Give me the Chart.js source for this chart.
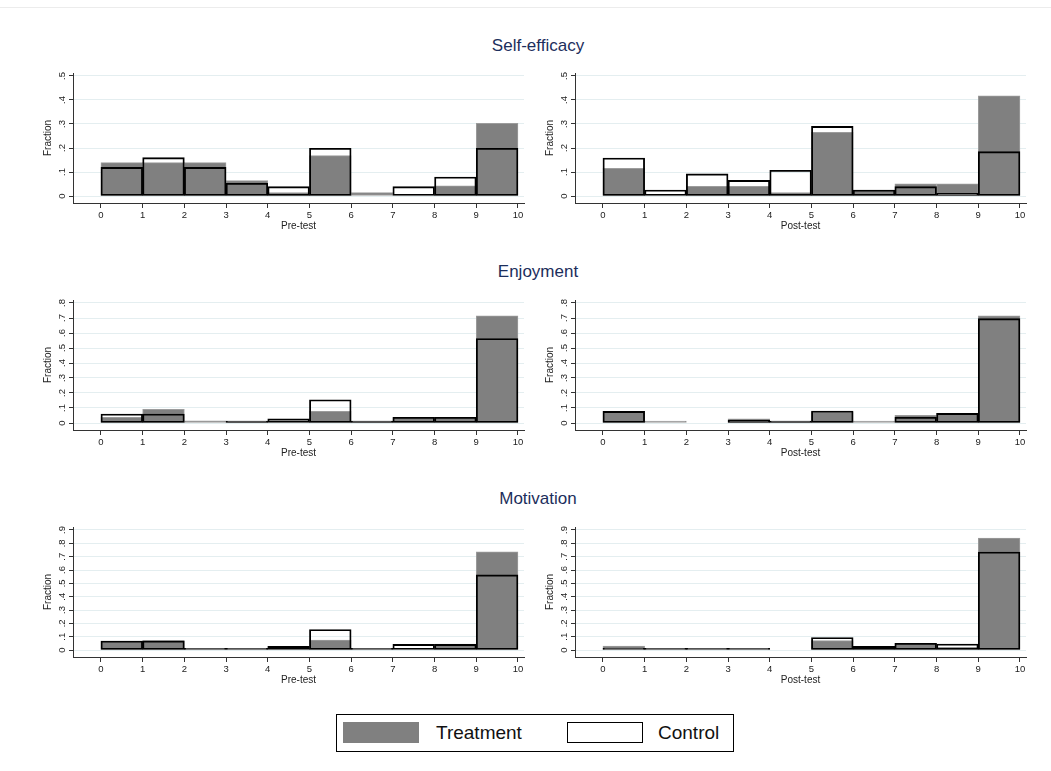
<!DOCTYPE html>
<html lang="en">
<head>
<meta charset="utf-8">
<title>Self-efficacy, Enjoyment, Motivation</title>
<style>
  * { margin: 0; padding: 0; }
  body {
    width: 1051px;
    height: 771px;
    background: #fff;
    position: relative;
    overflow: hidden;
    font-family: "Liberation Sans", Arial, sans-serif;
  }
  .topline { position: absolute; left: 0; top: 7px; width: 1051px; height: 1px; background: #ececec; }
  .rowTitle {
    position: absolute;
    left: 388px;
    width: 300px;
    text-align: center;
    font-size: 17px;
    color: #1c2e5c;
  }
  canvas { position: absolute; }
  .legend {
    position: absolute;
    left: 336px;
    top: 714px;
    width: 396px;
    height: 36px;
    border: 1px solid #000;
    font-size: 19px;
    color: #111;
  }
  .swatch { position: absolute; top: 7px; width: 76px; height: 21px; box-sizing: border-box; }
  .legend span { position: absolute; top: 7px; line-height: 22px; }
</style>
</head>
<body>
<div class="topline"></div>

<div class="rowTitle" style="top:36px">Self-efficacy</div>
<div class="rowTitle" style="top:262px">Enjoyment</div>
<div class="rowTitle" style="top:489px">Motivation</div>

<canvas id="sePre" width="490" height="171" style="left:40px; top:63px"></canvas>
<canvas id="sePost" width="490" height="171" style="left:542px; top:63px"></canvas>
<canvas id="enPre" width="490" height="171" style="left:40px; top:290px"></canvas>
<canvas id="enPost" width="490" height="171" style="left:542px; top:290px"></canvas>
<canvas id="moPre" width="490" height="171" style="left:40px; top:517px"></canvas>
<canvas id="moPost" width="490" height="171" style="left:542px; top:517px"></canvas>

<div class="legend">
  <div class="swatch" style="left:6px; background:#808080"></div>
  <span style="left:99px">Treatment</span>
  <div class="swatch" style="left:230px; border:1.5px solid #000; background:#fff"></div>
  <span style="left:321px">Control</span>
</div>

<script src="https://cdn.jsdelivr.net/npm/chart.js/dist/chart.umd.min.js"></script>
<script>
// bins are 0-1, 1-2, ... 9-10; bars sit at the bin centres
const binCentres = [0.5, 1.5, 2.5, 3.5, 4.5, 5.5, 6.5, 7.5, 8.5, 9.5];
const xTicks = [0, 1, 2, 3, 4, 5, 6, 7, 8, 9, 10];

const yTicksSelf = [0, 0.1, 0.2, 0.3, 0.4, 0.5];
const yTicksEnjoy = [0, 0.1, 0.2, 0.3, 0.4, 0.5, 0.6, 0.7, 0.8];
const yTicksMotiv = [0, 0.1, 0.2, 0.3, 0.4, 0.5, 0.6, 0.7, 0.8, 0.9];

// fractions (null = empty bin)
const selfPreTreat  = [0.139, 0.139, 0.139, 0.064, 0.014, 0.168, 0.014, null, 0.042, 0.303];
const selfPreCtrl   = [0.119, 0.160, 0.119, 0.053, 0.039, 0.199, null, 0.039, 0.079, 0.199];
const selfPostTreat = [0.115, null, 0.040, 0.040, 0.014, 0.265, 0.025, 0.051, 0.051, 0.417];
const selfPostCtrl  = [0.158, 0.025, 0.092, 0.065, 0.107, 0.290, 0.025, 0.039, 0.011, 0.185];

const enjPreTreat  = [0.038, 0.091, 0.015, 0.013, null, 0.077, 0.013, 0.036, 0.038, 0.714];
const enjPreCtrl   = [0.060, 0.060, null, 0.013, 0.027, 0.155, 0.013, 0.038, 0.038, 0.563];
const enjPostTreat = [0.077, 0.013, null, 0.027, 0.013, 0.071, 0.013, 0.051, 0.064, 0.714];
const enjPostCtrl  = [0.077, null, null, 0.020, 0.013, 0.080, null, 0.038, 0.064, 0.696];

const motPreTreat  = [0.067, 0.072, 0.012, 0.012, null, 0.074, 0.012, null, 0.045, 0.737];
const motPreCtrl   = [0.067, 0.067, 0.012, 0.012, 0.027, 0.154, 0.012, 0.042, 0.042, 0.563];
const motPostTreat = [0.030, 0.012, 0.012, 0.012, null, 0.070, 0.012, 0.050, 0.020, 0.839];
const motPostCtrl  = [0.012, 0.012, 0.012, 0.012, null, 0.094, 0.027, 0.050, 0.045, 0.735];

Chart.defaults.font.family = '"Liberation Sans", Arial, sans-serif';
Chart.defaults.color = '#222';

function fmtFraction(v) {
  if (Math.abs(v) < 1e-9) return '0';
  return v.toFixed(1).replace(/^0/, '');
}

function makePanel(id, treat, ctrl, yTicks, xTitle) {
  const top = yTicks[yTicks.length - 1];
  // stata leaves a little room below 0 and above the last tick
  const yMin = -top * 7 / 120;
  const yMax = top * (1 + 3 / 120);

  new Chart(document.getElementById(id), {
    type: 'bar',
    data: {
      datasets: [{
        label: 'Control',
        data: ctrl.map((v, i) => ({ x: binCentres[i], y: v })),
        backgroundColor: 'rgba(0,0,0,0)',
        borderColor: '#000',
        borderWidth: 1.2,
        borderSkipped: false,
        order: 0
      }, {
        label: 'Treatment',
        data: treat.map((v, i) => ({ x: binCentres[i], y: v })),
        backgroundColor: '#808080',
        borderColor: '#9c9c9c',
        borderWidth: 1,
        borderSkipped: false,
        order: 1
      }]
    },
    options: {
      responsive: false,
      animation: false,
      grouped: false,
      barPercentage: 1,
      categoryPercentage: 1,
      layout: { padding: { top: 10, right: 6, bottom: 0, left: 0 } },
      plugins: { legend: { display: false }, tooltip: { enabled: false } },
      scales: {
        x: {
          type: 'linear',
          min: -0.67,
          max: 10.145,
          offset: false,
          afterBuildTicks: s => { s.ticks = xTicks.map(v => ({ value: v })); },
          afterFit: s => { s.height = 31; },
          grid: { drawOnChartArea: false, offset: false, tickLength: 5, tickColor: '#333' },
          border: { color: '#333', width: 1 },
          ticks: { font: { size: 9.5 }, padding: 2, maxRotation: 0, autoSkip: false },
          title: { display: true, text: xTitle, font: { size: 10 }, padding: { top: 0, bottom: 2 } }
        },
        y: {
          min: yMin,
          max: yMax,
          afterBuildTicks: s => { s.ticks = yTicks.map(v => ({ value: v })); },
          afterFit: s => { s.width = 33; },
          grid: { color: '#e4eef0', lineWidth: 1, tickLength: 4, tickColor: '#333' },
          border: { color: '#333', width: 1 },
          ticks: {
            font: { size: 9.5 },
            padding: 3,
            minRotation: 90,
            maxRotation: 90,
            crossAlign: 'center',
            callback: v => fmtFraction(v)
          },
          title: { display: true, text: 'Fraction', font: { size: 10 }, padding: { top: 2, bottom: 0 } }
        }
      }
    }
  });
}

makePanel('sePre', selfPreTreat, selfPreCtrl, yTicksSelf, 'Pre-test');
makePanel('sePost', selfPostTreat, selfPostCtrl, yTicksSelf, 'Post-test');
makePanel('enPre', enjPreTreat, enjPreCtrl, yTicksEnjoy, 'Pre-test');
makePanel('enPost', enjPostTreat, enjPostCtrl, yTicksEnjoy, 'Post-test');
makePanel('moPre', motPreTreat, motPreCtrl, yTicksMotiv, 'Pre-test');
makePanel('moPost', motPostTreat, motPostCtrl, yTicksMotiv, 'Post-test');
</script>
</body>
</html>
